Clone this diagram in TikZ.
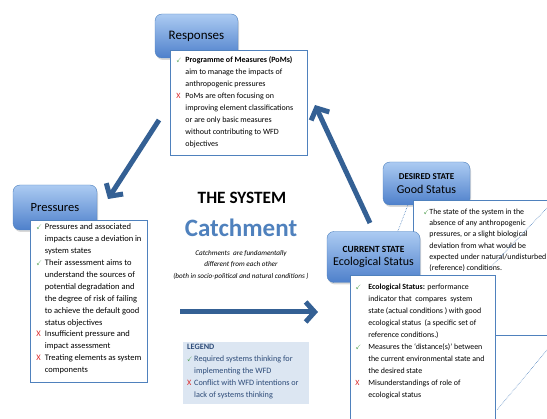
\documentclass[tikz,border=0pt]{standalone}
\usepackage{amssymb}
\usepackage{fontspec}
\setmainfont{Carlito}
\usetikzlibrary{arrows.meta,shadows,calc}

\definecolor{arrowblue}{RGB}{52,96,148}
\definecolor{hdrtop}{RGB}{172,203,242}
\definecolor{hdrbot}{RGB}{78,128,203}
\definecolor{hdrline}{RGB}{79,129,189}
\definecolor{boxline}{RGB}{79,129,189}
\definecolor{catchblue}{RGB}{79,129,189}
\definecolor{tickgreen}{RGB}{60,150,60}
\definecolor{crossred}{RGB}{220,40,40}
\definecolor{legendfill}{RGB}{220,230,242}
\definecolor{legendtext}{RGB}{45,75,120}

% hanging list items: green tick / red cross
\newlength{\markw}
\newcommand{\pro}{\par\hangindent=\markw\hangafter=1\noindent\makebox[\markw][l]{\textcolor{tickgreen}{\scalebox{0.8}{$\checkmark$}}}}
\newcommand{\con}{\par\hangindent=\markw\hangafter=1\noindent\makebox[\markw][l]{\textcolor{crossred}{X}}}

\begin{document}
\begin{tikzpicture}[
        x=1pt, y=-1pt,
        >={Straight Barb[length=9pt,width=20pt]},
        header/.style={rounded corners=7pt, draw=hdrline, top color=hdrtop, bottom color=hdrbot,
            drop shadow={shadow xshift=1pt, shadow yshift=-2pt, opacity=0.3}, align=center, inner sep=0pt},
        textbox/.style={draw=boxline, fill=white, line width=0.9pt, anchor=north west},
        cycle_arrow/.style={->, line width=5pt, arrowblue},
        callout/.style={draw=boxline, densely dotted, line width=0.6pt}
    ]
    \useasboundingbox (0,0) rectangle (547,419);
    \clip (0,0) rectangle (547,419);

    % --- 1. Responses ---
    \node[header, minimum width=83pt, minimum height=44pt] (resphdr) at (196.5,36)
        {\fontsize{13}{15}\selectfont Responses};
    \node[textbox, inner xsep=6pt, inner ysep=6.5pt] (respbox) at (170,50)
        {\parbox[t][92pt][t]{125pt}{\fontsize{8}{11.9}\selectfont\setlength{\markw}{9pt}
        \pro \textbf{Programme of Measures (PoMs)}\\ aim to manage the impacts of\\ anthropogenic pressures
        \con PoMs are often focusing on\\ improving element classifications\\ or are only basic measures\\ without contributing to WFD\\ objectives}};

    % --- 2. Pressures ---
    \node[header, minimum width=84pt, minimum height=45pt] (preshdr) at (55,207.5)
        {\fontsize{12.5}{15}\selectfont Pressures};
    \node[textbox, inner xsep=6pt, inner ysep=3.5pt] (presbox) at (30,220)
        {\parbox[t][155pt][t]{105pt}{\fontsize{8.5}{11.9}\selectfont\setlength{\markw}{8.5pt}
        \pro Pressures and associated\\ impacts cause a deviation in\\ system states
        \pro Their assessment aims to\\ understand the sources of\\ potential degradation and\\ the degree of risk of failing\\ to achieve the default good\\ status objectives
        \con Insufficient pressure and\\ impact assessment
        \con Treating elements as system\\ components}};

    % --- 3. The system ---
    \node[font=\bfseries\fontsize{17.3}{19}\selectfont] (sysname) at (242,198) {THE SYSTEM};
    \node[font=\bfseries\fontsize{25}{28}\selectfont, text=catchblue] (catch) at (241,228) {Catchment};
    \node[font=\itshape\fontsize{7.2}{11.6}\selectfont, align=center] (catchnote) at (241,265)
        {Catchments\ \ are fundamentally\\ different from each other\\ (both in socio-political and natural conditions )};

    % --- 4. Desired state ---
    \node[header, minimum width=87pt, minimum height=43pt] (deshdr) at (426.5,183.5)
        {\bfseries\fontsize{9}{11}\selectfont DESIRED STATE\\[2pt] \fontsize{12}{14}\selectfont Good Status};
    \node[textbox, inner xsep=10pt, inner ysep=8.5pt] (desbox) at (413,200)
        {\parbox[t][118pt][t]{135pt}{\fontsize{7.9}{11.2}\selectfont\setlength{\markw}{6pt}
        \pro The state of the system in the\\ absence of any anthropogenic\\ pressures, or a slight biological\\ deviation from what would be\\ expected under natural/undisturbed\\ (reference) conditions.}};
    \draw[callout] (547,208) -- (490,268);

    % --- 5. Current state ---
    \node[header, minimum width=93pt, minimum height=51pt] (curhdr) at (373.5,257)
        {\bfseries\fontsize{9.4}{11}\selectfont CURRENT STATE\\[1.5pt] \fontsize{12}{14}\selectfont Ecological Status};
    \draw[callout] ([xshift=25pt]deshdr.south west) -- ([xshift=71pt]curhdr.north west);
    \node[textbox, inner xsep=5pt, inner ysep=9pt] (curbox) at (350,275)
        {\parbox[t][150pt][t]{135pt}{\fontsize{7.9}{11.9}\selectfont\setlength{\markw}{13pt}
        \pro \textbf{Ecological Status:} performance\\ indicator that\ \ compares\ \ system\\ state (actual conditions ) with good\\ ecological status\ \ (a specific set of\\ reference conditions.)
        \pro Measures the `distance(s)' between\\ the current environmental state and\\ the desired state
        \con Misunderstandings of role of\\ ecological status}};
    \draw[callout] (547,350) -- (497,410);

    % --- 6. Legend ---
    \node[fill=legendfill, anchor=north west, inner xsep=4pt, inner ysep=2pt, text=legendtext] (legend) at (183,342)
        {\parbox[t][58pt][t]{118pt}{\fontsize{8.2}{12}\selectfont\setlength{\markw}{7pt}
        \textbf{LEGEND}
        \pro Required systems thinking for\\ implementing the WFD
        \con Conflict with WFD intentions or\\ lack of systems thinking}};

    % --- 7. Cycle arrows ---
    \coordinate (a1tail) at (159,120);
    \coordinate (a1tip) at (108,199);
    \coordinate (a2tail) at (370,223);
    \coordinate (a2tip) at (315,105);
    \coordinate (a3tail) at (180,312);
    \coordinate (a3tip) at (318,312);
    \draw[cycle_arrow] (a1tail) -- (a1tip);
    \draw[cycle_arrow] (a2tail) -- (a2tip);
    \draw[cycle_arrow] (a3tail) -- (a3tip);

\end{tikzpicture}
\end{document}
